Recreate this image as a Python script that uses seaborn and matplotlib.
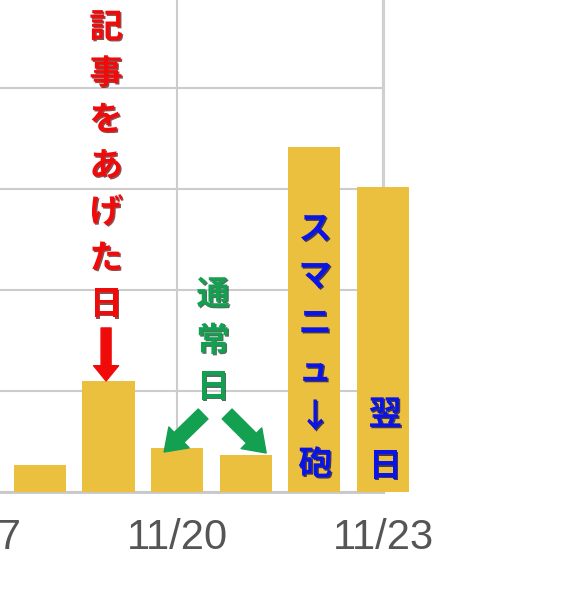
import matplotlib
matplotlib.use("Agg")
import matplotlib.pyplot as plt
import matplotlib.patheffects as pe
import seaborn as sns
import pandas as pd

# ---- data ----
dates = ["11/18", "11/19", "11/20", "11/21", "11/22", "11/23"]
views = [27, 110, 44, 37, 341, 302]
tick_labels = ["11/17", "11/20", "11/23"]
red_label = list("記事をあげた日")
green_label = list("通常日")
blue_label = list("スマニュ↓砲")
blue_label2 = list("翌日")

sns.set_theme(style="white")
plt.rcParams["font.family"] = ["Noto Sans CJK JP", "DejaVu Sans"]

df = pd.DataFrame({"date": dates, "views": views})

UNIT = 68.6          # pixels per day
X0 = -0.58           # data x at the figure's left edge
LEFT_PX = -60        # axes extends a bit past the left edge (cropped view)

fig = plt.figure(figsize=(5.7, 6.0), dpi=100)
ax = fig.add_axes([LEFT_PX / 570, 0.18, (383 - LEFT_PX) / 570, 0.82])

sns.barplot(data=df, x="date", y="views", order=dates, color="#EBC03F",
            saturation=1, width=0.76, ax=ax, zorder=3)
for p in ax.patches:
    p.set_clip_on(False)
    p.set_linewidth(0)

ax.set_xticks([-1, 2, 5])
ax.set_xticklabels(tick_labels, fontfamily="Liberation Sans", fontsize=30,
                   color="#555555")
ax.set_yticks([0, 100, 200, 300, 400])
ax.set_yticklabels([])
ax.set_xlim(X0 + LEFT_PX / UNIT, 5.0)
ax.set_ylim(0, 487)
ax.tick_params(axis="both", length=0)
ax.tick_params(axis="x", pad=19)
ax.set_xlabel("")
ax.set_ylabel("")
ax.grid(True, color="#cccccc", linewidth=1.5, zorder=0)
ax.set_axisbelow(True)
for s in ["left", "top"]:
    ax.spines[s].set_visible(False)
ax.spines["right"].set_color("#d0d0d0")
ax.spines["right"].set_linewidth(2.2)
ax.spines["bottom"].set_color("#c8c8c8")
ax.spines["bottom"].set_linewidth(2)


def px2data(px, py):
    return X0 + px / UNIT, (492 - py) / 1.01


def column(chars, px, py0, step, color, shadow, size=24):
    for i, ch in enumerate(chars):
        x, y = px2data(px, py0 + i * step)
        ax.text(x, y, ch, ha="center", va="center", fontsize=size,
                fontweight="bold", color=color, zorder=5, clip_on=False,
                path_effects=[pe.withSimplePatchShadow(offset=(1.0, -1.0),
                                                       shadow_rgbFace=shadow,
                                                       alpha=0.7)])


column(red_label, 106, 28, 46.2, "#F00A0A", "#600000")
column(green_label, 213, 295, 46.5, "#13A050", "#003818")
column(blue_label, 315, 230, 47.0, "#0A14E6", "#000050")
column(blue_label2, 385, 415, 52.0, "#0A14E6", "#000050")


def arrow(p0, p1, color, tw, hw, hl):
    ax.annotate("", xy=px2data(*p1), xytext=px2data(*p0),
                arrowprops=dict(arrowstyle=f"simple,head_length={hl},head_width={hw},tail_width={tw}",
                                color=color, shrinkA=0, shrinkB=0,
                                mutation_scale=20),
                zorder=6, annotation_clip=False)


arrow((106, 328), (106, 381), "#F00A0A", 0.36, 0.9, 0.55)
arrow((203, 414), (164, 452), "#13A050", 0.5, 1.05, 0.75)
arrow((227, 414), (266, 453), "#13A050", 0.5, 1.05, 0.75)

fig.savefig("out.png", dpi=100)
